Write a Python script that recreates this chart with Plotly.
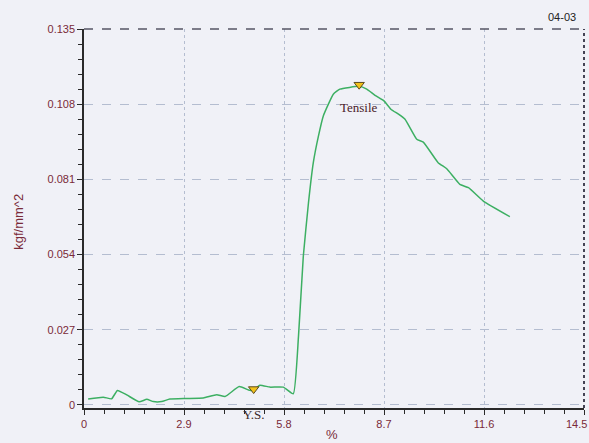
import plotly.graph_objects as go

strain = [0.12, 0.56, 0.80, 0.97, 1.24, 1.60, 1.82, 2.01, 2.25, 2.49, 2.98, 3.46, 3.85, 4.09, 4.50, 4.77, 4.91,
          5.10, 5.39, 5.78, 6.07, 6.22, 6.36, 6.51, 6.65, 6.80, 6.94, 7.23, 7.42, 7.98, 8.20, 8.44, 8.70,
          8.90, 9.12, 9.31, 9.65, 9.84, 10.27, 10.52, 10.90, 11.15, 11.58, 12.35]
stress = [0.0021, 0.0028, 0.0022, 0.0052, 0.0036, 0.0011, 0.0020, 0.0012, 0.0012, 0.0021, 0.0023, 0.0025, 0.0037,
          0.0030, 0.0066, 0.0054, 0.0052, 0.0071, 0.0064, 0.0064, 0.0040, 0.0246, 0.0534, 0.0726, 0.0870, 0.0966,
          0.1038, 0.1116, 0.1134, 0.1144, 0.1134, 0.1112, 0.1092, 0.1062, 0.1044, 0.1026, 0.0954, 0.0944, 0.0870,
          0.0848, 0.0792, 0.0780, 0.0732, 0.0676]

marker_x = [4.92, 7.98]
marker_y = [0.0057, 0.1150]
marker_labels = ["Y.S.", "Tensile"]

x_ticks = [0, 2.9, 5.8, 8.7, 11.6, 14.5]
x_tick_text = ["0", "2.9", "5.8", "8.7", "11.6", "14.5"]
y_ticks = [0, 0.027, 0.054, 0.081, 0.108, 0.135]
y_tick_text = ["0", "0.027", "0.054", "0.081", "0.108", "0.135"]

tick_color = "#7a2a38"
bg = "#f0f1f7"
tick_font = dict(family="Liberation Sans", size=11, color=tick_color)

fig = go.Figure()
fig.add_trace(go.Scatter(x=strain, y=stress, mode="lines", line_shape="spline",
                         line=dict(color="#3caf62", width=1.5, smoothing=0.4), hoverinfo="skip"))
fig.add_trace(go.Scatter(x=marker_x, y=marker_y, mode="markers",
                         marker=dict(symbol="triangle-down", size=9, color="#f2c21a",
                                     line=dict(color="#5a4a20", width=1)), hoverinfo="skip"))

# labels for markers
fig.add_annotation(x=marker_x[0], y=0, yshift=-10, text=marker_labels[0], showarrow=False,
                   font=dict(family="Liberation Serif", size=13, color="#3a2a2a"))
fig.add_annotation(x=marker_x[1], y=marker_y[1], yshift=-23, text=marker_labels[1], showarrow=False,
                   font=dict(family="Liberation Serif", size=13, color="#4a2028"))

fig.add_annotation(xref="paper", yref="paper", x=1.0, y=1.0, xanchor="right", yanchor="bottom",
                   xshift=-6, yshift=4, text="04-03", showarrow=False,
                   font=dict(family="Liberation Sans", size=11, color="#222222"))

# last x tick label, kept inside the page edge
fig.add_annotation(x=x_ticks[-1], y=0, yref="paper", yanchor="top", xanchor="right", xshift=5, yshift=-8,
                   text=x_tick_text[-1], showarrow=False, font=tick_font)

fig.add_annotation(xref="paper", yref="paper", x=0, y=0.49, xshift=-75, text="kgf/mm^2",
                   textangle=-90, showarrow=False,
                   font=dict(family="Liberation Sans", size=13, color=tick_color))
fig.add_annotation(xref="paper", yref="paper", x=0.496, y=0, yshift=-36, text="%",
                   showarrow=False, font=dict(family="Liberation Sans", size=13, color=tick_color))

# border lines (top dashed, right dotted)
fig.add_shape(type="line", xref="paper", yref="paper", x0=0, x1=1, y0=1, y1=1,
              line=dict(color="#555566", width=1.5, dash="dash"))
fig.add_shape(type="line", xref="paper", yref="paper", x0=1, x1=1, y0=0, y1=1,
              line=dict(color="#444455", width=2, dash="dot"))

fig.update_xaxes(range=[0, 14.5], tickvals=x_ticks, ticktext=x_tick_text,
                 showgrid=True, gridcolor="#b4bdd0", griddash="dot", gridwidth=1,
                 showline=True, linecolor="#2a2a2a", linewidth=2,
                 ticks="outside", ticklen=5, tickcolor="#2a2a2a",
                 minor=dict(dtick=0.58, ticks="outside", ticklen=4, tickcolor="#2a2a2a", showgrid=False),
                 tickfont=tick_font, zeroline=False)
fig.update_yaxes(range=[-0.0011, 0.135], tickvals=y_ticks, ticktext=y_tick_text,
                 showgrid=True, gridcolor="#b4bdd0", griddash="dash", gridwidth=1,
                 showline=True, linecolor="#2a2a2a", linewidth=1.5,
                 ticks="outside", ticklen=5, tickcolor="#2a2a2a",
                 minor=dict(dtick=0.0054, ticks="outside", ticklen=4, tickcolor="#2a2a2a", showgrid=False),
                 tickfont=tick_font, zeroline=False)

fig.update_layout(width=589, height=443, margin=dict(l=84, r=5, t=29, b=35),
                  paper_bgcolor=bg, plot_bgcolor=bg, showlegend=False)

fig.write_html("out.html")
